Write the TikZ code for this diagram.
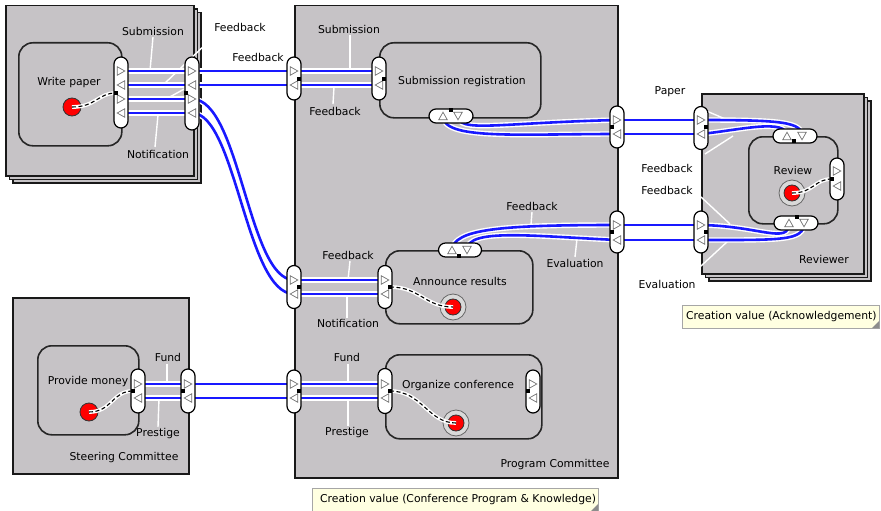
\documentclass[tikz,border=0pt]{standalone}
\usepackage{fontspec}
\setmainfont{DejaVu Sans}
\usetikzlibrary{shadows}
\definecolor{actorgray}{RGB}{198,195,198}
\definecolor{tipyellow}{RGB}{255,255,225}
\definecolor{flowblue}{RGB}{25,25,255}
\tikzset{
  actor/.style={draw=black!90, line width=1.5pt, fill=actorgray, anchor=north west, inner sep=0pt},
  stacked/.style={actor, double copy shadow={shadow xshift=3.5pt, shadow yshift=-3.5pt}},
  activity/.style={draw=black!85, line width=1.6pt, fill=actorgray, rounded corners=14pt, anchor=north west, inner sep=0pt},
  vpill/.style={draw=black, line width=1.2pt, fill=white, rounded corners=7pt, minimum width=14pt, inner sep=0pt},
  hpill/.style={draw=black, line width=1.2pt, fill=white, rounded corners=7pt, minimum height=14pt, inner sep=0pt},
  transfer/.style={line width=1.4pt, draw=white, double=flowblue, double distance=2.6pt},
  leader/.style={draw=white, line width=1.4pt},
  depend/.style={draw=black, line width=1.1pt, dash pattern=on 4pt off 2.5pt,
    preaction={draw=white, line width=3.8pt, solid}},
  startstim/.style={circle, draw=black!80, fill=red, line width=0.8pt, minimum size=18pt, inner sep=0pt},
  innerstim/.style={circle, draw=black!80, fill=red, line width=0.8pt, minimum size=16pt, inner sep=0pt},
  ringstim/.style={circle, draw=black!60, fill=black!15, line width=0.8pt, minimum size=26pt, inner sep=0pt},
  tri/.style={draw=black!55, fill=white, line width=0.7pt},
  lbl/.style={font=\fontsize{10.8}{12}\selectfont, inner sep=0pt, text=black},
  tip/.style={draw=black!35, fill=tipyellow, line width=0.6pt},
  pics/tR/.style={code={\draw[tri] (-3.8,-4.3) -- (3.8,0) -- (-3.8,4.3) -- cycle;}},
  pics/tL/.style={code={\draw[tri] (3.8,-4.3) -- (-3.8,0) -- (3.8,4.3) -- cycle;}},
  pics/tU/.style={code={\draw[tri] (-4.3,3.8) -- (0,-3.8) -- (4.3,3.8) -- cycle;}},
  pics/tD/.style={code={\draw[tri] (-4.3,-3.8) -- (0,3.8) -- (4.3,-3.8) -- cycle;}},
  pics/dot/.style={code={\fill[black] (-1.6,-1.6) rectangle (1.6,1.6);}},
}
\begin{document}
\begin{tikzpicture}[x=1pt,y=-1pt]
\useasboundingbox (0,0) rectangle (881,511);
\fill[white] (0,0) rectangle (881,511);

% ---------------- actors ----------------
\node[stacked, minimum width=188pt, minimum height=170pt] (author) at (5,5) {};
\node[actor, minimum width=323pt, minimum height=472pt] (pc) at (294,5) {};
\node[stacked, minimum width=162pt, minimum height=180pt] (reviewer) at (701,93) {};
\node[actor, minimum width=176pt, minimum height=176pt] (sc) at (12,297) {};

% ---------------- value activities ----------------
\node[activity, minimum width=103pt, minimum height=103pt] (writepaper) at (18,42) {};
\node[activity, minimum width=161pt, minimum height=75pt] (subreg) at (379,42) {};
\node[activity, minimum width=147pt, minimum height=73pt] (announce) at (385,250) {};
\node[activity, minimum width=156pt, minimum height=84pt] (organize) at (385,354) {};
\node[activity, minimum width=89pt, minimum height=87pt] (review) at (748,136) {};
\node[activity, minimum width=101pt, minimum height=89pt] (provide) at (37,345) {};

% ---------------- stimuli ----------------
\node[startstim] (wpS) at (72,107) {};
\node[startstim] (pmS) at (89,412) {};
\node[ringstim] (rvR) at (792,193) {};
\node[innerstim] (rvS) at (792,193) {};
\node[ringstim] (arR) at (453,307) {};
\node[innerstim] (arS) at (453,307) {};
\node[ringstim] (ocR) at (456,423) {};
\node[innerstim] (ocS) at (456,423) {};

% ---------------- port coordinates ----------------
% Author
\coordinate (wp1) at (121,71);  \coordinate (wp2) at (121,85);
\coordinate (wp3) at (121,99);  \coordinate (wp4) at (121,113);
\coordinate (ao1) at (192,71);  \coordinate (ao2) at (192,85);
\coordinate (ao3) at (192,99);  \coordinate (ao4) at (192,113);
\coordinate (wpD) at (116,93);  \coordinate (aoD) at (186,93);
% Program Committee
\coordinate (pl1) at (294,71);  \coordinate (pl2) at (294,85);
\coordinate (sl1) at (379,71);  \coordinate (sl2) at (379,85);
\coordinate (sbU) at (443,116); \coordinate (sbD) at (458,116);
\coordinate (pr1a) at (617,120); \coordinate (pr1b) at (617,134);
\coordinate (pr2a) at (617,225); \coordinate (pr2b) at (617,240);
\coordinate (pm1) at (294,280); \coordinate (pm2) at (294,294);
\coordinate (al1) at (385,280); \coordinate (al2) at (385,294);
\coordinate (atU) at (452,250); \coordinate (atD) at (467,250);
\coordinate (pf1) at (294,384); \coordinate (pf2) at (294,398);
\coordinate (ol1) at (385,384); \coordinate (ol2) at (385,398);
\coordinate (alD) at (390,287); \coordinate (olD) at (390,391);
% Reviewer
\coordinate (ro1a) at (701,120); \coordinate (ro1b) at (701,134);
\coordinate (ro2a) at (701,225); \coordinate (ro2b) at (701,240);
\coordinate (rtU) at (787,136); \coordinate (rtD) at (802,136);
\coordinate (rbU) at (789,223); \coordinate (rbD) at (804,223);
\coordinate (rrD) at (832,179);
% Steering Committee
\coordinate (pp1) at (138,384); \coordinate (pp2) at (138,398);
\coordinate (so1) at (188,384); \coordinate (so2) at (188,398);
\coordinate (ppD) at (133,391);

% ---------------- dependency paths ----------------
\draw[depend] (wpS.center) .. controls (96,107) and (98,93) .. (wpD);
\draw[depend] (pmS.center) .. controls (112,412) and (112,391) .. (ppD);
\draw[depend] (rvS.center) .. controls (814,193) and (814,179) .. (rrD);
\draw[depend] (alD) .. controls (420,287) and (425,307) .. (arS.center);
\draw[depend] (olD) .. controls (422,391) and (428,423) .. (ocS.center);

% ---------------- label leader lines ----------------
\draw[leader] (153,37) -- (150,71);
\draw[leader] (207,43) -- (163,85);
\draw[leader] (199,81) -- (166,99);
\draw[leader] (158,115) -- (155,147);
\draw[leader] (350,35) -- (350,71);
\draw[leader] (334,87) -- (333,104);
\draw[leader] (690,104) -- (730,121);
\draw[leader] (705,154) -- (733,136);
\draw[leader] (701,197) -- (730,224);
\draw[leader] (701,266) -- (728,241);
\draw[leader] (532,212) -- (531,225);
\draw[leader] (575,257) -- (577,239);
\draw[leader] (350,261) -- (348,280);
\draw[leader] (347,318) -- (347,294);
\draw[leader] (167,364) -- (167,384);
\draw[leader] (158,427) -- (159,398);
\draw[leader] (348,364) -- (348,384);
\draw[leader] (348,426) -- (348,398);

% ---------------- value transfers ----------------
% Submission / Feedback between author and registration
\draw[transfer] (wp1) -- (ao1);
\draw[transfer] (ao1) -- (pl1);
\draw[transfer] (pl1) -- (sl1);
\draw[transfer] (sl2) -- (pl2);
\draw[transfer] (pl2) -- (ao2);
\draw[transfer] (ao2) -- (wp2);
% Feedback / Notification between author and announcement
\draw[transfer] (wp3) -- (ao3);
\draw[transfer] (ao3) .. controls (240,99) and (248,280) .. (pm1);
\draw[transfer] (pm1) -- (al1);
\draw[transfer] (al2) -- (pm2);
\draw[transfer] (pm2) .. controls (246,294) and (236,113) .. (ao4);
\draw[transfer] (ao4) -- (wp4);
% Paper / Feedback between registration and review
\draw[transfer] (sbD) .. controls (459,133) and (495,123) .. (pr1a);
\draw[transfer] (pr1a) -- (ro1a);
\draw[transfer] (ro1a) .. controls (782,120) and (802,122) .. (rtD);
\draw[transfer] (rtU) .. controls (787,118) and (740,130) .. (ro1b);
\draw[transfer] (ro1b) -- (pr1b);
\draw[transfer] (pr1b) .. controls (515,134) and (443,140) .. (sbU);
% Feedback / Evaluation between announcement and review
\draw[transfer] (atU) .. controls (454,229) and (500,225) .. (pr2a);
\draw[transfer] (pr2a) -- (ro2a);
\draw[transfer] (ro2a) .. controls (760,226) and (789,245) .. (rbU);
\draw[transfer] (rbD) .. controls (804,241) and (782,240) .. (ro2b);
\draw[transfer] (ro2b) -- (pr2b);
\draw[transfer] (pr2b) .. controls (530,236) and (467,228) .. (atD);
% Fund / Prestige
\draw[transfer] (pp1) -- (so1);
\draw[transfer] (so1) -- (pf1);
\draw[transfer] (pf1) -- (ol1);
\draw[transfer] (ol2) -- (pf2);
\draw[transfer] (pf2) -- (so2);
\draw[transfer] (so2) -- (pp2);

% ---------------- value interfaces ----------------
\node[vpill, minimum height=71pt] (wpI) at (121,92.5) {};
\node[vpill, minimum height=73pt] (aoI) at (192,93.5) {};
\node[vpill, minimum height=43pt] (plI) at (294,78.5) {};
\node[vpill, minimum height=43pt] (slI) at (379,78.5) {};
\node[hpill, minimum width=44pt] (sbI) at (451,116) {};
\node[vpill, minimum height=42pt] (pr1I) at (617,127) {};
\node[vpill, minimum height=42pt] (pr2I) at (617,232) {};
\node[vpill, minimum height=43pt] (pmI) at (294,287) {};
\node[vpill, minimum height=43pt] (alI) at (385,287) {};
\node[hpill, minimum width=43pt] (atI) at (460,250) {};
\node[vpill, minimum height=43pt] (pfI) at (294,391.5) {};
\node[vpill, minimum height=45pt] (olI) at (385,391) {};
\node[vpill, minimum height=43pt] (orI) at (533,391.5) {};
\node[vpill, minimum height=43pt] (ro1I) at (701,128) {};
\node[vpill, minimum height=42pt] (ro2I) at (701,232) {};
\node[hpill, minimum width=44pt] (rtI) at (795,136) {};
\node[hpill, minimum width=44pt] (rbI) at (796,223) {};
\node[vpill, minimum height=42pt] (rrI) at (837,179) {};
\node[vpill, minimum height=44pt] (ppI) at (138,391) {};
\node[vpill, minimum height=44pt] (soI) at (188,391) {};

% ---------------- ports ----------------
\pic at (wp1) {tR}; \pic at (wp2) {tL}; \pic at (wp3) {tR}; \pic at (wp4) {tL};
\pic at (ao1) {tR}; \pic at (ao2) {tL}; \pic at (ao3) {tR}; \pic at (ao4) {tL};
\pic at (pl1) {tR}; \pic at (pl2) {tL};
\pic at (sl1) {tR}; \pic at (sl2) {tL};
\pic at (sbU) {tU}; \pic at (sbD) {tD};
\pic at (pr1a) {tR}; \pic at (pr1b) {tL};
\pic at (pr2a) {tR}; \pic at (pr2b) {tL};
\pic at (pm1) {tR}; \pic at (pm2) {tL};
\pic at (al1) {tR}; \pic at (al2) {tL};
\pic at (atU) {tU}; \pic at (atD) {tD};
\pic at (pf1) {tR}; \pic at (pf2) {tL};
\pic at (ol1) {tR}; \pic at (ol2) {tL};
\pic at (533,384) {tR}; \pic at (533,398) {tL};
\pic at (ro1a) {tR}; \pic at (ro1b) {tL};
\pic at (ro2a) {tR}; \pic at (ro2b) {tL};
\pic at (rtU) {tU}; \pic at (rtD) {tD};
\pic at (rbU) {tU}; \pic at (rbD) {tD};
\pic at (837,171) {tR}; \pic at (837,186) {tL};
\pic at (pp1) {tR}; \pic at (pp2) {tL};
\pic at (so1) {tR}; \pic at (so2) {tL};

% interface markers
\pic at (wpD) {dot}; \pic at (aoD) {dot};
\pic at (299,79) {dot}; \pic at (384,79) {dot};
\pic at (451,110) {dot};
\pic at (612,127) {dot}; \pic at (612,232) {dot};
\pic at (299,287) {dot}; \pic at (alD) {dot};
\pic at (459,256) {dot};
\pic at (299,391) {dot}; \pic at (olD) {dot}; \pic at (528,391) {dot};
\pic at (706,127) {dot}; \pic at (706,232) {dot};
\pic at (794,141) {dot}; \pic at (797,217) {dot}; \pic at (rrD) {dot};
\pic at (ppD) {dot}; \pic at (183,391) {dot};

% ---------------- texts ----------------
\node[lbl] (tWrite) at (69,83) {Write paper};
\node[lbl] (tSubReg) at (462,82) {Submission registration};
\node[lbl] (tReview) at (793,170) {Review};
\node[lbl] (tAnnounce) at (460,281) {Announce results};
\node[lbl] (tOrganize) at (458,386) {Organize conference};
\node[lbl] (tProvide) at (88,382) {Provide money};
\node[lbl] (tSC) at (124,458) {Steering Committee};
\node[lbl] (tPC) at (555,465) {Program Committee};
\node[lbl] (tRev) at (824,259) {Reviewer};

\node[lbl] (l1) at (153,31) {Submission};
\node[lbl] (l2) at (240,27) {Feedback};
\node[lbl] (l3) at (258,57) {Feedback};
\node[lbl] (l4) at (158,154) {Notification};
\node[lbl] (l5) at (349,29) {Submission};
\node[lbl] (l6) at (335,111) {Feedback};
\node[lbl] (l7) at (670,92) {Paper};
\node[lbl] (l8) at (667,168) {Feedback};
\node[lbl] (l9) at (667,190) {Feedback};
\node[lbl] (l10) at (667,284) {Evaluation};
\node[lbl] (l11) at (532,206) {Feedback};
\node[lbl] (l12) at (575,263) {Evaluation};
\node[lbl] (l13) at (348,255) {Feedback};
\node[lbl] (l14) at (348,323) {Notification};
\node[lbl] (l15) at (168,357) {Fund};
\node[lbl] (l16) at (158,434) {Prestige};
\node[lbl] (l17) at (347,357) {Fund};
\node[lbl] (l18) at (347,433) {Prestige};

% ---------------- creation value notes ----------------
\draw[tip] (682,305) rectangle (879,328);
\fill[black!45] (879,321) -- (879,328) -- (872,328) -- cycle;
\node[lbl, anchor=west] (cv1) at (686,317) {Creation value (Acknowledgement)};
\draw[tip] (312,488) rectangle (598,512);
\fill[black!45] (598,504) -- (598,511) -- (591,511) -- cycle;
\node[lbl, anchor=west] (cv2) at (320,500) {Creation value (Conference Program \& Knowledge)};
\end{tikzpicture}
\end{document}
